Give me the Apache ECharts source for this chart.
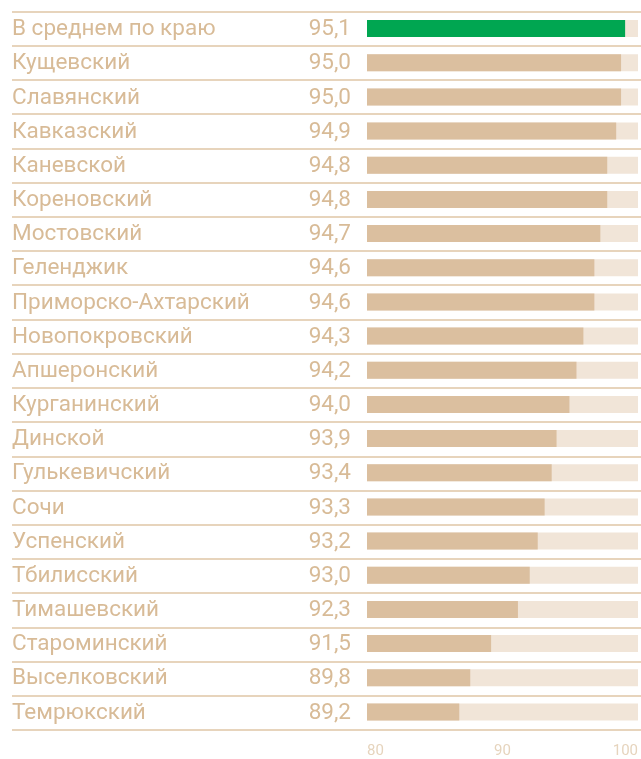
<!doctype html>
<html>
<head>
	<meta charset="UTF-8">
	<title>Районы</title>
	<style>
		html, body { margin: 0; padding: 0; background: #fff; overflow: hidden; }
		#chart { width: 641px; height: 759px; }
	</style>
</head>
<body>
<div id="chart"></div>
<script src="https://cdn.jsdelivr.net/npm/echarts@6/dist/echarts.min.js"></script>
<script>
	// районы и подписи
	var names = ['В среднем по краю', 'Кущевский', 'Славянский', 'Кавказский', 'Каневской', 'Кореновский',
		'Мостовский', 'Геленджик', 'Приморско-Ахтарский', 'Новопокровский', 'Апшеронский', 'Курганинский',
		'Динской', 'Гулькевичский', 'Сочи', 'Успенский', 'Тбилисский', 'Тимашевский', 'Староминский',
		'Выселковский', 'Темрюкский'];
	var values = ['95,1', '95,0', '95,0', '94,9', '94,8', '94,8', '94,7', '94,6', '94,6', '94,3', '94,2',
		'94,0', '93,9', '93,4', '93,3', '93,2', '93,0', '92,3', '91,5', '89,8', '89,2'];
	// длина полос по шкале 80-100 (как нарисовано)
	var barLen = [99.05, 98.75, 98.75, 98.39, 97.73, 97.73, 97.22, 96.78, 96.78, 95.97, 95.46,
		94.94, 93.99, 93.63, 93.11, 92.60, 92.01, 91.14, 89.16, 87.62, 86.81];
	var axisTicks = [80, 90, 100];

	var tan = '#dbbf9f', pale = '#f1e5d8', green = '#00a651', txt = '#d8bb97';
	var font = 'Roboto';

	var full = names.map(function () { return 100; });
	var bars = barLen.map(function (v, i) {
		return i === 0 ? { value: v, itemStyle: { color: green } } : v;
	});

	var option = {
		animation: false,
		grid: [
			{ left: 12, width: 629, top: 11.5, height: 718.5 },
			{ left: 367, width: 274, top: 11.5, height: 718.5 }
		],
		xAxis: [
			{ gridIndex: 0, type: 'value', show: false, min: 0, max: 1 },
			{
				gridIndex: 1, type: 'value', min: 80, max: 100, interval: 10,
				axisLine: { show: false }, axisTick: { show: false }, splitLine: { show: false },
				axisLabel: {
					color: '#e6d4bd', fontFamily: font, fontSize: 15, margin: 15,
					alignMinLabel: 'left', alignMaxLabel: 'right',
					customValues: axisTicks
				}
			}
		],
		yAxis: [
			{
				gridIndex: 0, type: 'category', inverse: true, data: names,
				axisLine: { show: false }, axisTick: { show: false }, axisLabel: { show: false },
				splitLine: { show: true, lineStyle: { color: '#dfc6a6', width: 1.5 } }
			},
			{
				gridIndex: 1, type: 'category', inverse: true, data: names,
				axisLine: { show: false }, axisTick: { show: false }, splitLine: { show: false },
				axisLabel: {
					margin: 16,
					formatter: function (v, i) {
						return '{n|' + v + '}{v|' + values[i] + '}';
					},
					rich: {
						n: { width: 270, align: 'left', color: txt, fontFamily: font, fontSize: 22.5, padding: [2, 0, 0, 0] },
						v: { width: 69, align: 'right', color: txt, fontFamily: font, fontSize: 22.5, padding: [2, 0, 0, 0] }
					}
				}
			}
		],
		series: [
			{
				type: 'bar', xAxisIndex: 1, yAxisIndex: 1, data: full, barWidth: 17,
				itemStyle: { color: pale }, silent: true
			},
			{
				type: 'bar', xAxisIndex: 1, yAxisIndex: 1, data: bars, barWidth: 17, barGap: '-100%',
				itemStyle: { color: tan }
			}
		]
	};

	var chart = echarts.init(document.getElementById('chart'));
	chart.setOption(option);
</script>
</body>
</html>
